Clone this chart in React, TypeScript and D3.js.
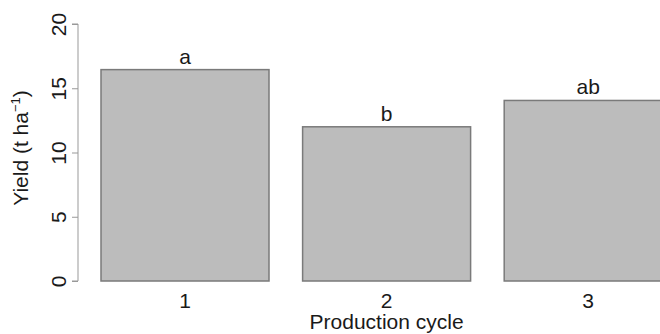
import React, { useEffect, useRef } from 'react';
import * as d3 from 'd3';

const cycles = ['1', '2', '3'];
const yieldValues = [16.45, 12.0, 14.05];
const letters = ['a', 'b', 'ab'];
const yTicks = [0, 5, 10, 15, 20];

const FONT = "'Liberation Sans', Arial, Helvetica, sans-serif";
const FS = 21;

function YieldChart() {
  const ref = useRef<SVGSVGElement>(null);

  useEffect(() => {
    const width = 660, height = 334;
    const svg = d3.select(ref.current)
      .attr('width', width)
      .attr('height', height);

    svg.selectAll('*').remove();

    const barW = 168;
    const x = d3.scaleBand()
      .domain(cycles)
      .range([101, 101 + 3 * barW + 2 * barW * 0.2])
      .paddingInner(1 / 6)
      .paddingOuter(0);
    const y = d3.scaleLinear().domain([0, 20]).range([281, 24]);

    // y axis
    const yAxis = svg.append('g')
      .attr('transform', 'translate(78,0)')
      .call(d3.axisLeft(y).tickValues(yTicks).tickSize(6).tickPadding(0).tickFormat(d3.format('d')));
    yAxis.select('.domain').attr('stroke', '#999').attr('d', `M-6,${y(20)}H0V${y(0)}H-6`);
    yAxis.selectAll('.tick line').attr('stroke', '#999');
    yAxis.selectAll('.tick text')
      .attr('font-family', FONT)
      .attr('font-size', FS)
      .attr('fill', '#1a1a1a')
      .attr('transform', 'rotate(-90)')
      .attr('x', 0)
      .attr('y', -12)
      .attr('dy', 0)
      .attr('text-anchor', 'middle');

    // bars
    svg.append('g')
      .selectAll('rect')
      .data(yieldValues)
      .join('rect')
      .attr('x', (_, i) => x(cycles[i])!)
      .attr('y', (d) => y(d))
      .attr('width', x.bandwidth())
      .attr('height', (d) => y(0) - y(d))
      .attr('fill', '#bcbcbc')
      .attr('stroke', '#7a7a7a')
      .attr('stroke-width', 1.5);

    // significance letters
    svg.append('g')
      .selectAll('text')
      .data(yieldValues)
      .join('text')
      .attr('x', (_, i) => x(cycles[i])! + x.bandwidth() / 2)
      .attr('y', (d) => y(d) - 6)
      .attr('text-anchor', 'middle')
      .attr('font-family', FONT)
      .attr('font-size', FS)
      .attr('fill', '#1a1a1a')
      .text((_, i) => letters[i]);

    // x tick labels
    svg.append('g')
      .selectAll('text')
      .data(cycles)
      .join('text')
      .attr('x', (d) => x(d)! + x.bandwidth() / 2)
      .attr('y', 308)
      .attr('text-anchor', 'middle')
      .attr('font-family', FONT)
      .attr('font-size', FS)
      .attr('fill', '#1a1a1a')
      .text((d) => d);

    // x title
    svg.append('text')
      .attr('x', x('2')! + x.bandwidth() / 2)
      .attr('y', 329)
      .attr('text-anchor', 'middle')
      .attr('font-family', FONT)
      .attr('font-size', FS)
      .attr('fill', '#1a1a1a')
      .text('Production cycle');

    // y title
    const yt = svg.append('text')
      .attr('transform', `translate(28,148) rotate(-90)`)
      .attr('text-anchor', 'middle')
      .attr('font-family', FONT)
      .attr('font-size', FS)
      .attr('fill', '#1a1a1a');
    yt.append('tspan').text('Yield (t ha');
    yt.append('tspan').attr('font-size', 13).attr('dy', -8).text('\u22121');
    yt.append('tspan').attr('dy', 8).text(')');
  }, []);

  return <svg ref={ref} style={{ display: 'block' }}></svg>;
}

export default function App() {
  useEffect(() => {
    document.body.style.margin = '0';
  }, []);
  return <YieldChart />;
}
